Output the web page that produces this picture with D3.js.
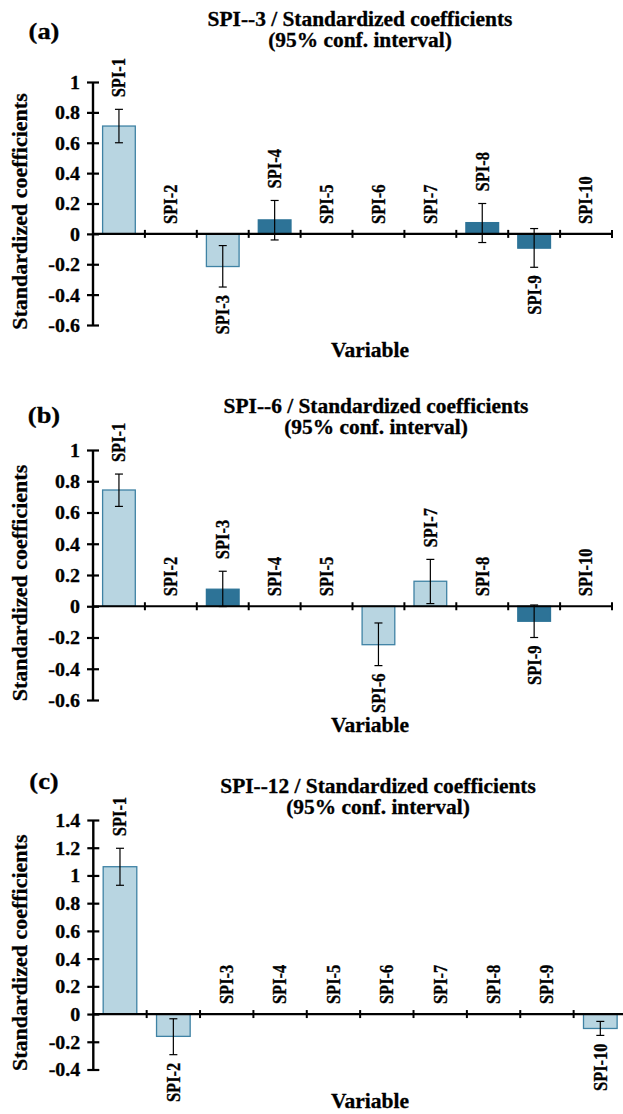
<!DOCTYPE html>
<html>
<head>
<meta charset="utf-8">
<script src="https://cdn.jsdelivr.net/npm/d3@7"></script>
<style>
  html, body { margin: 0; padding: 0; background: #fff; }
  svg { display: block; }
  text { font-family: "Liberation Serif", "Times New Roman", serif; font-weight: bold; fill: #000; stroke: #000; stroke-width: 0.3px; }
</style>
</head>
<body>
<svg id="chart" width="623" height="1114"></svg>
<script>
// ---------- DATA ----------
const categories = ["SPI-1","SPI-2","SPI-3","SPI-4","SPI-5","SPI-6","SPI-7","SPI-8","SPI-9","SPI-10"];

// Panel (a) SPI--3
const valuesA = [0.71, null, -0.215, 0.092, null, null, null, 0.074, -0.094, null];
const lowerA  = [0.60, null, -0.35, -0.04, null, null, null, -0.057, -0.22, null];
const upperA  = [0.82, null, -0.077, 0.22, null, null, null, 0.20, 0.035, null];
const ticksA  = [-0.6, -0.4, -0.2, 0, 0.2, 0.4, 0.6, 0.8, 1];

// Panel (b) SPI--6
const valuesB = [0.744, null, 0.109, null, null, -0.246, 0.16, null, -0.096, null];
const lowerB  = [0.639, null, -0.002, null, null, -0.38, 0.017, null, -0.20, null];
const upperB  = [0.846, null, 0.224, null, null, -0.107, 0.30, null, 0.008, null];
const ticksB  = [-0.6, -0.4, -0.2, 0, 0.2, 0.4, 0.6, 0.8, 1];

// Panel (c) SPI--12
const valuesC = [1.063, -0.161, null, null, null, null, null, null, null, -0.104];
const lowerC  = [0.929, -0.293, null, null, null, null, null, null, null, -0.154];
const upperC  = [1.196, -0.034, null, null, null, null, null, null, null, -0.053];
const ticksC  = [-0.4, -0.2, 0, 0.2, 0.4, 0.6, 0.8, 1, 1.2, 1.4];

const titlesLine1 = ["SPI--3 / Standardized coefficients", "SPI--6 / Standardized coefficients", "SPI--12 / Standardized coefficients"];
const titleLine2 = "(95% conf. interval)";
const panelLetters = ["(a)", "(b)", "(c)"];
const yAxisTitle = "Standardized coefficients";
const xAxisTitle = "Variable";

// ---------- LAYOUT ----------
const LIGHT_FILL = "#b8d5e1", LIGHT_STROKE = "#3f82a4", DARK_FILL = "#2d7397";
const panels = [
  { values: valuesA, lower: lowerA, upper: upperA, ticks: ticksA, domain: [-0.6, 1],
    yTop: 82, yBot: 325, xL: 93, xR: 612, titleX: 360, titleY: 26, letterY: 39, varY: 357 },
  { values: valuesB, lower: lowerB, upper: upperB, ticks: ticksB, domain: [-0.6, 1],
    yTop: 450, yBot: 700, xL: 93, xR: 612, titleX: 376, titleY: 413, letterY: 423, varY: 732 },
  { values: valuesC, lower: lowerC, upper: upperC, ticks: ticksC, domain: [-0.4, 1.4],
    yTop: 820, yBot: 1069.5, xL: 93.3, xR: 627, titleX: 378, titleY: 793, letterY: 789, varY: 1108 }
];

const svg = d3.select("#chart");
svg.append("rect").attr("width", 623).attr("height", 1114).attr("fill", "#fff");

function txt(g, x, y, s, size, sx, rot, anchor, dy) {
  return g.append("text")
    .attr("transform", `translate(${x},${y}) scale(${sx},1)` + (rot ? ` rotate(${rot})` : ""))
    .attr("font-size", size)
    .attr("text-anchor", anchor || "middle")
    .attr("dy", dy || 0)
    .text(s);
}

panels.forEach((p, pi) => {
  const g = svg.append("g");
  const y = d3.scaleLinear().domain(p.domain).range([p.yBot, p.yTop]);
  const x = d3.scaleBand().domain(categories).range([p.xL, p.xR])
    .paddingInner(0.37).paddingOuter(0.185);
  const step = x.step();
  const y0 = y(0);

  const rows = categories.map((c, i) => ({ c, v: p.values[i], lo: p.lower[i], hi: p.upper[i] }));
  const withBars = rows.filter(d => d.v !== null);
  const significant = d => d.lo > 0 || d.hi < 0;

  // bars
  g.selectAll("rect.bar").data(withBars).join("rect")
    .attr("class", "bar")
    .attr("x", d => x(d.c))
    .attr("width", x.bandwidth())
    .attr("y", d => Math.min(y(d.v), y0))
    .attr("height", d => Math.abs(y(d.v) - y0))
    .attr("fill", d => significant(d) ? LIGHT_FILL : DARK_FILL)
    .attr("stroke", d => significant(d) ? LIGHT_STROKE : DARK_FILL)
    .attr("stroke-width", 1.3);

  // x axis line at zero with category boundary ticks
  const xAxis = d3.axisBottom(x).tickSize(0).tickFormat("");
  const xg = g.append("g").attr("transform", `translate(0,${y0})`).call(xAxis);
  xg.select(".domain").attr("stroke", "#000").attr("stroke-width", 2.2).attr("d", `M${p.xL},0H${p.xR}`);
  xg.selectAll(".tick").remove();
  d3.range(1, categories.length + 1).forEach(i => {
    const bx = p.xL + i * step;
    xg.append("line").attr("x1", bx).attr("x2", bx).attr("y1", -4).attr("y2", 4)
      .attr("stroke", "#000").attr("stroke-width", 2);
  });

  // y axis
  const yAxis = d3.axisLeft(y).tickValues(p.ticks).tickSize(0).tickPadding(13)
    .tickFormat(d => Math.abs(d) < 1e-9 ? "0" : String(+d.toFixed(1)));
  const yg = g.append("g").attr("transform", `translate(${p.xL},0)`).call(yAxis);
  yg.select(".domain").attr("stroke", "#000").attr("stroke-width", 2.4)
    .attr("d", `M0,${p.yTop}V${p.yBot}`);
  yg.selectAll(".tick line").attr("x1", -6).attr("x2", 6).attr("stroke", "#000").attr("stroke-width", 2.2);
  yg.selectAll(".tick text").each(function(d) {
    const t = d3.select(this);
    t.attr("x", null)
     .attr("transform", `translate(-13,0) scale(1.08,1)`)
     .attr("dy", "0.35em")
     .attr("font-size", 18.5)
     .attr("font-family", "Liberation Serif, Times New Roman, serif")
     .attr("font-weight", "bold")
     .attr("fill", "#000");
  });
  yg.attr("font-size", null).attr("font-family", null);

  // error bars
  const eb = g.selectAll("g.err").data(withBars).join("g").attr("class", "err");
  eb.append("line")
    .attr("x1", d => x(d.c) + x.bandwidth() / 2).attr("x2", d => x(d.c) + x.bandwidth() / 2)
    .attr("y1", d => y(d.lo)).attr("y2", d => y(d.hi))
    .attr("stroke", "#000").attr("stroke-width", 1.2);
  ["lo", "hi"].forEach(k => {
    eb.append("line")
      .attr("x1", d => x(d.c) + x.bandwidth() / 2 - 4).attr("x2", d => x(d.c) + x.bandwidth() / 2 + 4)
      .attr("y1", d => y(d[k])).attr("y2", d => y(d[k]))
      .attr("stroke", "#000").attr("stroke-width", 1.2);
  });

  // category labels (rotated)
  rows.forEach(d => {
    const cx = x(d.c) + x.bandwidth() / 2;
    if (d.v === null) {
      txt(g, cx, y0 - 10, d.c, 16.5, 1.1, -90, "start", "0.35em");
    } else if (d.v >= 0) {
      txt(g, cx, Math.min(y(d.v), y(d.hi)) - 12, d.c, 16.5, 1.1, -90, "start", "0.35em");
    } else {
      txt(g, cx, Math.max(y(d.v), y(d.lo)) + 8, d.c, 16.5, 1.1, -90, "end", "0.35em");
    }
  });

  // titles
  txt(g, p.titleX, p.titleY, titlesLine1[pi], 20, 1.07);
  txt(g, p.titleX, p.titleY + 21, titleLine2, 20, 1.07);
  txt(g, 44, p.letterY, panelLetters[pi], 23, 1.15);
  txt(g, 370, p.varY, xAxisTitle, 21.5, 1.0);
  txt(g, 27, (p.yTop + p.yBot) / 2 + 8, yAxisTitle, 22, 1.0, -90, "middle");
});
</script>
</body>
</html>
